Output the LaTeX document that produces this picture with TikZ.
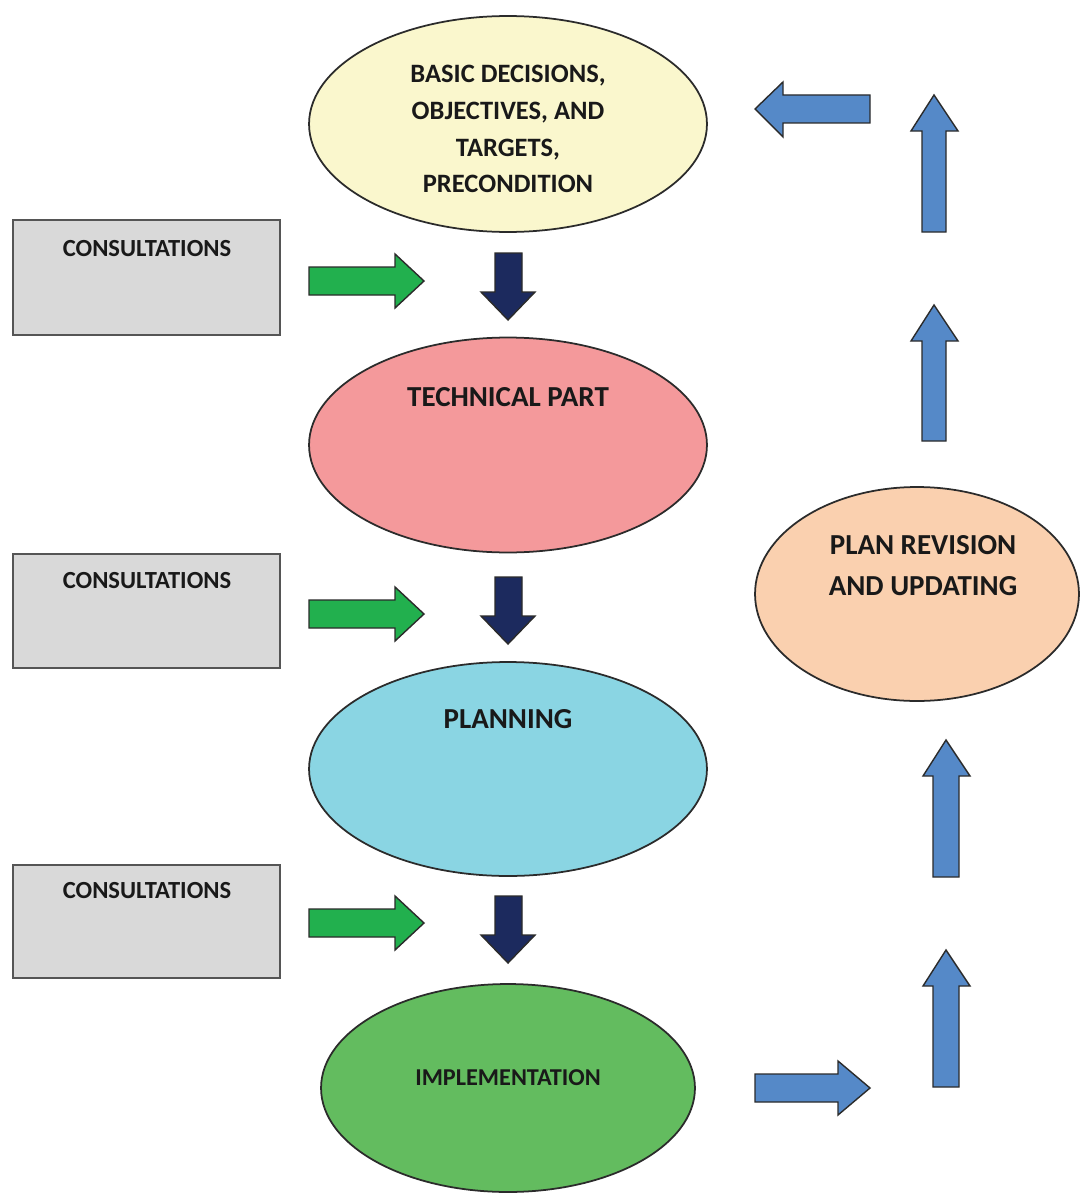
\documentclass[tikz,border=0pt]{standalone}
\usepackage{fontspec}
\setmainfont{Carlito}
\usetikzlibrary{shapes.geometric}
\definecolor{creamfill}{HTML}{FAF7CD}
\definecolor{pinkfill}{HTML}{F4999B}
\definecolor{skyfill}{HTML}{8AD5E3}
\definecolor{leaffill}{HTML}{63BC5F}
\definecolor{peachfill}{HTML}{FAD0AF}
\definecolor{boxfill}{HTML}{D9D9D9}
\definecolor{greenarrow}{HTML}{22B04E}
\definecolor{navyarrow}{HTML}{1C2A5E}
\definecolor{bluearrow}{HTML}{5589C8}
\definecolor{edge}{HTML}{2B2B2B}
\tikzset{
  stage/.style={ellipse, draw=edge, line width=1pt, inner sep=0pt},
  consult/.style={rectangle, draw=edge!80, line width=1.2pt, fill=boxfill,
    minimum width=5.34cm, minimum height=2.3cm, inner sep=0pt},
  title/.style={font=\bfseries\fontsize{16.5}{23.3}\selectfont, align=center, inner sep=0pt, text=black!90},
  small/.style={font=\bfseries\fontsize{14}{19}\selectfont, align=center, inner sep=0pt, text=black!90},
  blockarrow/.style={draw=edge, line width=0.8pt, line join=miter},
}
\begin{document}
\begin{tikzpicture}[x=0.02cm,y=-0.02cm]
\useasboundingbox (0,0) rectangle (1080,1193);
\fill[white] (0,0) rectangle (1080,1193);

% main stages
\node[stage, fill=creamfill, minimum width=7.96cm, minimum height=4.32cm] (basic) at (508,124) {};
\node[stage, fill=pinkfill, minimum width=7.96cm, minimum height=4.30cm] (tech) at (508,445) {};
\node[stage, fill=skyfill, minimum width=7.96cm, minimum height=4.28cm] (plan) at (508,769) {};
\node[stage, fill=leaffill, minimum width=7.48cm, minimum height=4.16cm] (impl) at (508,1088) {};
\node[stage, fill=peachfill, minimum width=6.48cm, minimum height=4.28cm] (rev) at (917,594) {};

\node[title, font=\bfseries\fontsize{15.1}{21}\selectfont] (basictxt) at (508,129)
  {BASIC DECISIONS,\\OBJECTIVES, AND\\TARGETS,\\PRECONDITION};
\node[title] (techtxt) at (508,397) {TECHNICAL PART};
\node[title] (plantxt) at (508,719) {PLANNING};
\node[small, font=\bfseries\fontsize{13.8}{19}\selectfont] (impltxt) at (508,1078) {IMPLEMENTATION};
\node[title] (revtxt) at (923,566) {PLAN REVISION\\AND UPDATING};

% consultation boxes
\node[consult] (c1) at (146.5,277.5) {};
\node[consult, minimum height=2.28cm] (c2) at (146.5,611) {};
\node[consult, minimum height=2.26cm] (c3) at (146.5,921.5) {};
\node[small] (c1txt) at (147,249) {CONSULTATIONS};
\node[small] (c2txt) at (147,581) {CONSULTATIONS};
\node[small] (c3txt) at (147,891) {CONSULTATIONS};

% green arrows: consultation feeds the step
\foreach \y in {281,614,923}{
  \draw[blockarrow, fill=greenarrow]
    (309,\y-14) -- (395,\y-14) -- (395,\y-27) -- (424,\y) -- (395,\y+27)
    -- (395,\y+14) -- (309,\y+14) -- cycle;
}

% navy arrows between stages
\foreach \t in {253,577,896}{
  \draw[blockarrow, fill=navyarrow]
    (495,\t) -- (522,\t) -- (522,\t+39) -- (535,\t+39) -- (508,\t+67)
    -- (481,\t+39) -- (495,\t+39) -- cycle;
}

% feedback loop
\draw[blockarrow, fill=bluearrow]
  (870,95) -- (783,95) -- (783,82) -- (755,109) -- (783,137) -- (783,123) -- (870,123) -- cycle;
\draw[blockarrow, fill=bluearrow]
  (755,1074) -- (838,1074) -- (838,1061) -- (870,1088) -- (838,1115) -- (838,1102) -- (755,1102) -- cycle;
\foreach \tip/\bot in {95/232,305/441}{
  \draw[blockarrow, fill=bluearrow]
    (922,\bot) -- (922,\tip+36) -- (911,\tip+36) -- (934,\tip) -- (958,\tip+36)
    -- (946,\tip+36) -- (946,\bot) -- cycle;
}
\foreach \tip/\bot in {740/877,950/1087}{
  \draw[blockarrow, fill=bluearrow]
    (933,\bot) -- (933,\tip+36) -- (923,\tip+36) -- (946,\tip) -- (970,\tip+36)
    -- (959,\tip+36) -- (959,\bot) -- cycle;
}
\end{tikzpicture}
\end{document}
